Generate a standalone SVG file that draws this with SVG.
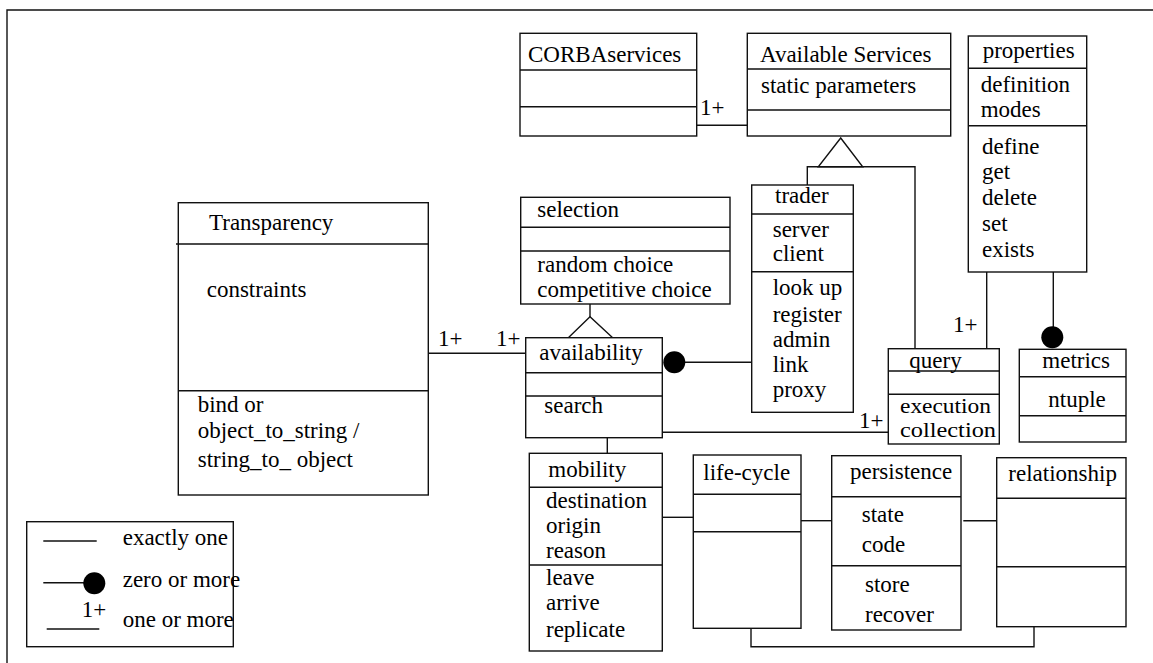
<svg xmlns="http://www.w3.org/2000/svg" width="1153" height="663" viewBox="0 0 1153 663">
<style>
text{font-family:"Liberation Serif","Times New Roman",serif;font-size:23px;fill:#000}
.b{fill:#fff;stroke:#111;stroke-width:1.4}
.l{fill:none;stroke:#111;stroke-width:1.4}
.d{fill:#000}
.s{font-size:20px}
</style>
<rect width="1153" height="663" fill="#fff"/>
<path class="l" d="M7,663 V10 H1153" stroke-width="2"/>

<g id="connectors">
<path class="l" d="M697,125.3 H747"/>
<text x="700" y="115">1+</text>
<polygon class="b" points="840.7,138 818.3,166.7 862.7,166.7"/>
<path class="l" d="M807.3,185 V166.7 H915 V348.7"/>
<path class="l" d="M986.7,272 V348.7"/>
<text x="953" y="332">1+</text>
<path class="l" d="M1053.3,272 V337"/>
<circle class="d" cx="1052.3" cy="337.3" r="11"/>
<path class="l" d="M428.3,353.3 H525.7"/>
<text x="438" y="346">1+</text>
<text x="496" y="346">1+</text>
<path class="l" d="M590,304 V317"/>
<polygon class="b" points="590,316.7 568.3,337.7 612.7,337.7"/>
<path class="l" d="M674,362.3 H751.7"/>
<circle class="d" cx="674.3" cy="362.3" r="11"/>
<path class="l" d="M662.3,432.3 H888.3"/>
<text x="859" y="428">1+</text>
<path class="l" d="M607.3,437.7 V453.3"/>
<path class="l" d="M662.3,517.3 H693.3"/>
<path class="l" d="M801,520.7 H831.7"/>
<path class="l" d="M963.3,520.7 H996.7"/>
<path class="l" d="M751,628.3 V646.7 H1034 V626.7"/>
</g>

<g id="corbaservices">
<rect class="b" x="520" y="33.3" width="176.7" height="102.7"/>
<path class="l" d="M520,70 H696.7 M520,106.7 H696.7"/>
<text x="528" y="62">CORBAservices</text>
</g>

<g id="available-services">
<rect class="b" x="747.3" y="33.3" width="203.4" height="102.7"/>
<path class="l" d="M747.3,69 H950.7 M747.3,110 H950.7"/>
<text x="760" y="62">Available Services</text>
<text x="761" y="93">static parameters</text>
</g>

<g id="properties">
<rect class="b" x="968.3" y="36" width="118.4" height="236"/>
<path class="l" d="M968.3,68.3 H1086.7 M968.3,125.7 H1086.7"/>
<text x="982.7" y="58">properties</text>
<text x="980.7" y="91.7">definition</text>
<text x="980.7" y="116.7">modes</text>
<text x="982" y="154">define</text>
<text x="982" y="179">get</text>
<text x="982" y="205">delete</text>
<text x="982" y="231">set</text>
<text x="982" y="257">exists</text>
</g>

<g id="transparency">
<rect class="b" x="178.3" y="202.7" width="250" height="292.3"/>
<path class="l" d="M176,244 H428.3 M178.3,390.7 H428.3"/>
<text x="209" y="230">Transparency</text>
<text x="206.7" y="296.7">constraints</text>
<text x="197.7" y="411.7">bind or</text>
<text x="197.7" y="438">object_to_string /</text>
<text x="197.7" y="466.7">string_to_ object</text>
</g>

<g id="selection">
<rect class="b" x="520.7" y="197.3" width="209.3" height="106.7"/>
<path class="l" d="M520.7,227.3 H730 M520.7,251 H730"/>
<text x="537.3" y="216.7">selection</text>
<text x="537.3" y="271.7">random choice</text>
<text x="537.3" y="296.7">competitive choice</text>
</g>

<g id="availability">
<rect class="b" x="525.7" y="337.7" width="136.6" height="100"/>
<path class="l" d="M525.7,372.7 H662.3 M525.7,396 H662.3"/>
<text x="539.3" y="360">availability</text>
<text x="544.3" y="413.3">search</text>
</g>

<g id="trader">
<rect class="b" x="751.7" y="185" width="101.6" height="227.3"/>
<path class="l" d="M751.7,214 H853.3 M751.7,271.7 H853.3"/>
<text x="775" y="203.3">trader</text>
<text x="772.7" y="237.3">server</text>
<text x="772.7" y="261">client</text>
<text x="772.7" y="295">look up</text>
<text x="772.7" y="321.7">register</text>
<text x="772.7" y="347">admin</text>
<text x="772.7" y="371.7">link</text>
<text x="772.7" y="396.7">proxy</text>
</g>

<g id="query">
<rect class="b" x="888.3" y="348.7" width="111" height="95.3"/>
<path class="l" d="M888.3,371 H999.3 M888.3,394.3 H999.3"/>
<text x="909.3" y="368.3">query</text>
<text class="s" x="900" y="413" textLength="91" lengthAdjust="spacingAndGlyphs">execution</text>
<text class="s" x="900" y="437" textLength="96" lengthAdjust="spacingAndGlyphs">collection</text>
</g>

<g id="metrics">
<rect class="b" x="1019.3" y="349.3" width="106.7" height="92.7"/>
<path class="l" d="M1019.3,376.7 H1126 M1019.3,415.7 H1126"/>
<text x="1042.3" y="368.3">metrics</text>
<text x="1048.3" y="406.7">ntuple</text>
</g>

<g id="mobility">
<rect class="b" x="529.3" y="453.3" width="133" height="197.7"/>
<path class="l" d="M529.3,487.3 H662.3 M529.3,565 H662.3"/>
<text x="548.3" y="476.7">mobility</text>
<text x="546" y="508.3">destination</text>
<text x="546" y="533.3">origin</text>
<text x="546" y="558.3">reason</text>
<text x="546" y="585">leave</text>
<text x="546" y="610">arrive</text>
<text x="546" y="636.7">replicate</text>
</g>

<g id="life-cycle">
<rect class="b" x="693.3" y="455" width="107.7" height="173.3"/>
<path class="l" d="M693.3,494.3 H801 M693.3,531.7 H801"/>
<text x="703.3" y="480">life-cycle</text>
</g>

<g id="persistence">
<rect class="b" x="831.7" y="455.7" width="129.3" height="174.3"/>
<path class="l" d="M831.7,496.7 H961 M831.7,565.7 H961"/>
<text x="850" y="479.3">persistence</text>
<text x="861.7" y="521.7">state</text>
<text x="861.7" y="551.7">code</text>
<text x="865" y="591.7">store</text>
<text x="865" y="621.7">recover</text>
</g>

<g id="relationship">
<rect class="b" x="996.7" y="457.7" width="129.3" height="169"/>
<path class="l" d="M996.7,498.3 H1126 M996.7,566.7 H1126"/>
<text x="1008.3" y="480.7">relationship</text>
</g>

<g id="legend">
<rect class="b" x="26.7" y="521.7" width="206.6" height="125"/>
<path class="l" d="M43.3,541 H96.7"/>
<text x="122.7" y="545">exactly one</text>
<path class="l" d="M43.3,582.7 H90"/>
<circle class="d" cx="94.3" cy="583.3" r="11"/>
<text x="122.7" y="586.7">zero or more</text>
<text x="81.7" y="617.3">1+</text>
<path class="l" d="M46.7,629 H99.3"/>
<text x="122.7" y="626.7">one or more</text>
</g>
</svg>
